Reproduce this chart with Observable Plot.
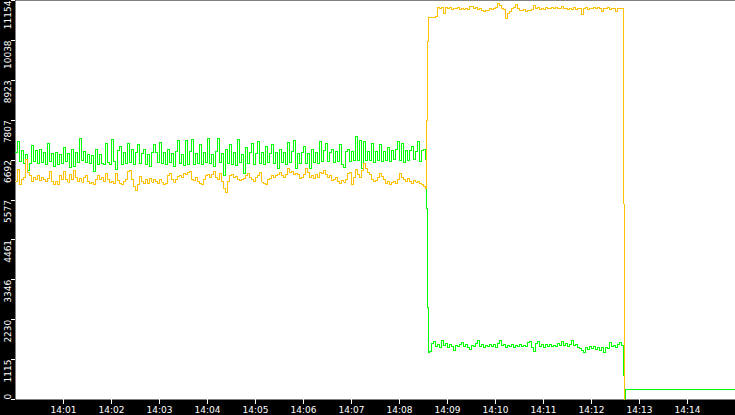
<!DOCTYPE html>
<html><head><meta charset="utf-8">
<script src="https://cdn.jsdelivr.net/npm/d3@7"></script>
<script src="https://cdn.jsdelivr.net/npm/@observablehq/plot@0.6"></script>
<style>
html,body{margin:0;padding:0;background:#000;overflow:hidden}
#chart svg path{shape-rendering:crispEdges}
</style></head><body><div id="chart"></div>
<script>
// Sampling: seconds after 14:00:00
const sampleSeconds = 2.5;
const segmentBStart = 517.5;

const greenA = [
6900,7200,6640,6950,6600,6850,6400,6600,7100,6650,
6950,6600,7000,6620,6900,6580,7150,6640,6880,6520,
6900,6560,6850,6600,7050,6640,6880,6480,7000,6520,
6900,6620,7300,6680,6920,6620,6860,6600,6820,6380,
6980,6560,6850,6600,6580,7150,6620,6560,7270,6640,
6420,6950,7060,6560,6900,6600,7150,6620,6980,6560,
6900,7120,6600,6880,7000,6560,6840,6500,6900,7120,
6900,6620,7180,6600,6900,6560,7000,6620,6880,6520,
6940,7250,6600,6860,6540,7240,6580,6920,7260,6560,
6880,6600,7120,6560,6900,6620,7300,6600,6860,6520,
6940,7300,6620,6880,6260,6980,6600,7140,6580,6900,
6540,7260,6620,6860,6330,7040,6600,6900,7150,6580,
6880,7200,6600,6900,6560,7060,6620,6880,7120,6600,
6900,6450,6980,6620,6900,6560,7180,6620,6920,7240,
6460,6880,6600,6900,7080,6600,6880,6450,7000,6620,
6900,6600,7220,6640,6950,7160,6640,6900,6980,6620,
6920,6660,7130,6560,6480,6940,6990,6640,6920,6680,
7340,6680,7250,6450,7200,6680,6920,6680,7150,6620,
6920,6680,7130,6660,6940,6680,7050,6660,6960,6700,
6980,7200,6680,7150,6620,6950,6680,6960,7080,6700,
6940,7200,6640,6950,7000,6700];

const yellowA = [
6100,6420,6000,6150,6200,6700,6350,6250,6100,6200,
6150,6250,6120,6200,6150,6100,6180,6380,6100,6020,
6100,6000,6250,6150,6360,6150,6080,6300,6150,6400,
6200,6100,6180,6080,6200,6260,6100,6050,6080,6020,
6150,6250,6150,6200,6100,6330,6150,6060,6100,6050,
6320,6120,6050,6000,6100,6150,6380,6400,6150,5950,
5850,6000,6230,6100,6030,6150,6050,6180,6080,6150,
6100,6050,6150,6080,6000,6050,6250,6330,6150,6080,
6150,6220,6250,6200,6320,6300,6350,6380,6150,6120,
6200,6100,6050,6000,6150,6250,6300,6200,6280,6380,
6200,6150,6330,6100,5900,5800,6100,6250,6280,6200,
6230,6150,6120,6150,6180,6250,6320,6200,6150,6100,
6200,6250,6340,6080,6050,6000,6150,6180,6250,6200,
6260,6300,6350,6250,6200,6300,6450,6350,6380,6300,
6330,6300,6180,6200,6280,6460,6350,6200,6250,6180,
6300,6200,6350,6330,6400,6300,6200,6250,6120,6150,
6200,6100,6050,6120,6080,6150,6330,6350,6000,6200,
6420,6300,6200,6400,6600,6450,6350,6300,6150,6100,
6120,6200,6330,6220,6150,6050,6100,6000,6080,6100,
6050,6150,6330,6200,6150,6100,6180,6100,6050,6120,
6080,6100,6050,6000,5950,5900];

const transitionTimes = [513.75, 515, 516.25];
const greenTransition = [5350, 2565, 1310];
const yellowTransition = [7800, 10010, 10680];

const greenB = [
1340,1560,1620,1480,1540,1450,1640,1500,1560,1460,
1540,1480,1380,1520,1470,1550,1600,1480,1530,1450,
1390,1520,1470,1560,1640,1490,1540,1460,1520,1470,
1550,1480,1530,1460,1560,1640,1500,1540,1450,1510,
1470,1540,1460,1520,1480,1550,1470,1520,1490,1580,
1610,1450,1330,1560,1610,1480,1540,1460,1530,1480,
1550,1470,1520,1490,1560,1500,1620,1520,1570,1480,
1540,1640,1500,1540,1460,1430,1380,1300,1440,1400,
1470,1420,1480,1400,1460,1380,1440,1310,1460,1420,
1580,1480,1520,1450,1540,1600,1500];

const yellowB = [
10680,10690,10670,10700,10950,10920,10960,10800,10950,10930,
10960,10900,10940,10920,10950,10900,10930,10910,10940,10900,
11000,10980,10920,10950,10890,10930,10880,10860,10880,10870,
10930,10900,10940,10960,11080,11010,10920,10890,10660,10780,
10850,10930,10960,11050,10940,10880,10870,10890,10860,10880,
10870,10900,11020,10930,10950,10900,10940,10910,10950,10920,
10940,10960,10930,10950,10940,10920,10990,10920,10940,10900,
10930,10910,10950,10900,10930,10920,10770,10930,10950,10910,
10940,10930,10960,10920,10950,10930,10860,10940,10920,10950,
10900,10940,10930,10850,10920,10940,10930];

const greenEndTimes = [760, 761.25, 762.5, 900];
const greenEnd = [670, 30, 280, 280];
const yellowEndTimes = [760, 761.25];
const yellowEnd = [5465, 0];

const xTickLabels = ["14:01","14:02","14:03","14:04","14:05","14:06","14:07","14:08","14:09","14:10","14:11","14:12","14:13","14:14"];
const yTickValues = [0, 1115.4, 2230.8, 3346.2, 4461.6, 5577, 6692.4, 7807.8, 8923.2, 10038.6, 11154];
const yTickLabels = ["0","1115","2230","3346","4461","5577","6692","7807","8923","10038","11154"];

const t0 = new Date(2024, 0, 1, 14, 0, 0);
const toDate = s => new Date(t0.getTime() + s * 1000);

function buildRows(aVals, transVals, bVals, endTimes, endVals) {
  const rows = [];
  aVals.forEach((v, i) => rows.push({time: toDate(i * sampleSeconds), value: v}));
  transVals.forEach((v, i) => rows.push({time: toDate(transitionTimes[i]), value: v}));
  bVals.forEach((v, j) => rows.push({time: toDate(segmentBStart + j * sampleSeconds), value: v}));
  endVals.forEach((v, i) => rows.push({time: toDate(endTimes[i]), value: v}));
  return rows;
}
const greenRows = buildRows(greenA, greenTransition, greenB, greenEndTimes, greenEnd);
const yellowRows = buildRows(yellowA, yellowTransition, yellowB, yellowEndTimes, yellowEnd);

const xTicks = xTickLabels.map(l => { const [h, m] = l.split(":"); return new Date(2024, 0, 1, +h, +m, 0); });
const xLabelByTime = new Map(xTicks.map((d, i) => [+d, xTickLabels[i]]));
const yLabelRows = yTickValues.map((v, i) => ({v, label: yTickLabels[i]}));

const chart = Plot.plot({
  width: 735, height: 415,
  marginLeft: 15, marginRight: 0, marginTop: 0, marginBottom: 16,
  style: {background: "black", fontFamily: "DejaVu Sans", fontSize: "9px"},
  x: {type: "time", domain: [toDate(0), toDate(900)], label: null},
  y: {domain: [0, 11154], label: null},
  marks: [
    Plot.frame({fill: "white", stroke: "none"}),
    Plot.line(greenRows, {x: "time", y: "value", stroke: "#00ff00", strokeWidth: 1, curve: "step-after"}),
    Plot.line(yellowRows, {x: "time", y: "value", stroke: "#ffc000", strokeWidth: 1, curve: "step-after"}),
    Plot.axisX({ticks: xTicks, tickFormat: d => xLabelByTime.get(+d), tickSize: 5, tickPadding: 2, color: "white", label: null, fontSize: 9}),
    Plot.axisY({ticks: yTickValues, tickFormat: () => "", tickSize: 4, color: "white", label: null}),
    Plot.text(yLabelRows.slice(1), {y: "v", text: "label", frameAnchor: "left", dx: -5, rotate: -90, textAnchor: "end", lineAnchor: "bottom", fill: "white", fontSize: 9}),
    Plot.text(yLabelRows.slice(0, 1), {y: "v", text: "label", frameAnchor: "left", dx: -5, rotate: -90, textAnchor: "start", lineAnchor: "bottom", fill: "white", fontSize: 9})
  ]
});
document.getElementById("chart").appendChild(chart);
</script></body></html>
